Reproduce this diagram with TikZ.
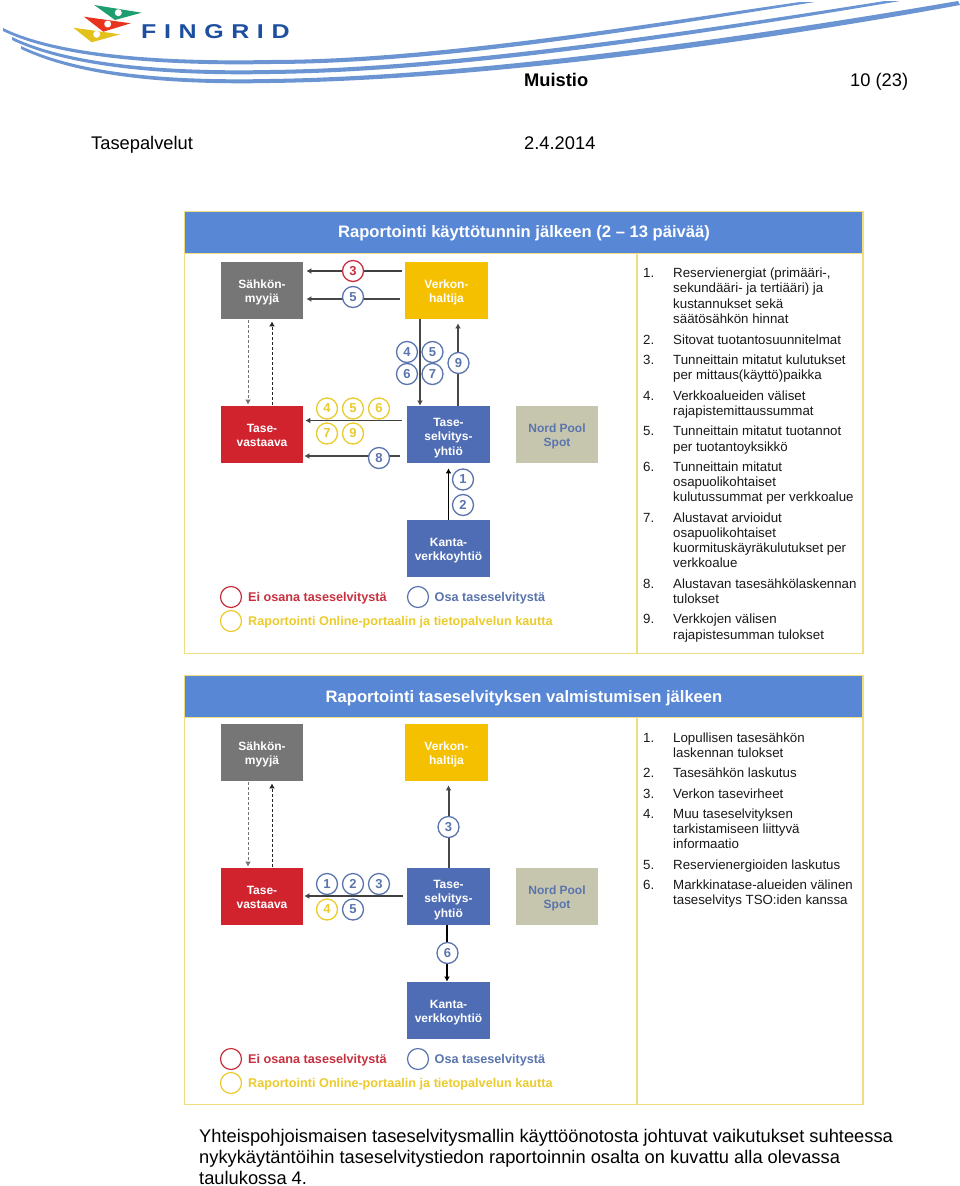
\documentclass[tikz,border=0pt]{standalone}
\usepackage{fontspec}
\setmainfont{Liberation Sans}
\usetikzlibrary{arrows.meta,calc}
\definecolor{hdr}{HTML}{5887D6}
\definecolor{frameY}{HTML}{EFDD80}
\definecolor{cGrey}{HTML}{767676}
\definecolor{cYel}{HTML}{F5C000}
\definecolor{cRed}{HTML}{D1232E}
\definecolor{cBlue}{HTML}{4F6DB4}
\definecolor{cSand}{HTML}{C6C6AE}
\definecolor{rRed}{HTML}{C8303F}
\definecolor{rBlue}{HTML}{5A74AE}
\definecolor{rYel}{HTML}{EBCB2E}
\definecolor{swoosh}{HTML}{6A94D2}
\definecolor{fgBlue}{HTML}{1D4FA0}
\definecolor{lgGreen}{HTML}{1E9E6E}
\definecolor{lgRed}{HTML}{E8331F}
\definecolor{lgYel}{HTML}{E3C21C}
\tikzset{
  box/.style={minimum width=82.5pt,minimum height=57.5pt,inner sep=0pt,text=white,
     font=\fontsize{12}{14.5}\selectfont\bfseries},
  numc/.style={circle,draw=#1,line width=1.3pt,fill=white,text=#1,minimum size=21pt,inner sep=0pt,
     font=\fontsize{13}{15}\selectfont\bfseries},
  legc/.style={circle,draw=#1,line width=1.2pt,minimum size=21pt,inner sep=0pt},
  legt/.style={anchor=west,inner sep=0pt,text=#1,font=\fontsize{12.65}{15}\selectfont\bfseries},
  conn/.style={-{Latex[length=5pt,width=6pt]},line width=1.1pt,draw=#1},
  conn/.default=black!75,
  dconn/.style={-{Latex[length=5pt,width=6pt]},line width=1pt,dash pattern=on 3pt off 2pt,draw=#1},
  lst/.style={anchor=base west,inner sep=0pt,font=\fontsize{13.3}{15}\selectfont,text=black!90},
  page/.style={anchor=base west,inner sep=0pt,font=\fontsize{18.3}{22}\selectfont},
  head/.style={text=white,inner sep=0pt,font=\fontsize{16.6}{20}\selectfont\bfseries},
}
\newcommand{\bt}[2][-2pt]{\raisebox{#1}[\height][\depth]{\begin{tabular}{@{}c@{}}#2\end{tabular}}}
\newcommand{\li}[2]{\node[lst] at (673,#1+5) {#2};}
\newcommand{\lin}[3]{\node[lst] at (643,#1+5) {#2};\node[lst] at (673,#1+5) {#3};}
\newcommand{\diagram}[1]{%
  \node[box,fill=cGrey] (s#1) at (262,#1+290.5) {\bt{Sähkön-\\myyjä}};
  \node[box,fill=cYel] (v#1) at (446.5,#1+290.5) {\bt{Verkon-\\haltija}};
  \node[box,fill=cRed] (r#1) at (262,#1+434.5) {\bt{Tase-\\vastaava}};
  \node[box,fill=cBlue] (t#1) at (448.5,#1+434.5) {\bt[-3.5pt]{Tase-\\selvitys-\\yhtiö}};
  \node[box,fill=cSand,text=rBlue] (n#1) at (557,#1+434.5) {\bt{Nord Pool\\Spot}};
  \node[box,fill=cBlue] (k#1) at (448.5,#1+548.5) {\bt{Kanta-\\verkkoyhtiö}};
  \draw[dconn=black!55] ([shift={(-14,1)}]s#1.south) -- ([shift={(-14,-1)}]r#1.north);
  \draw[dconn=black!85] ([shift={(10,-1)}]r#1.north) -- ([shift={(10,2)}]s#1.south);
  \node[legc=rRed] (lr#1) at (231,#1+597) {};
  \node[legt=rRed] (lrt#1) at (248,#1+598.5) {Ei osana taseselvitystä};
  \node[legc=rBlue] (lb#1) at (418,#1+597) {};
  \node[legt=rBlue] (lbt#1) at (434.5,#1+598.5) {Osa taseselvitystä};
  \node[legc=rYel] (ly#1) at (231,#1+621) {};
  \node[legt=rYel] (lyt#1) at (248,#1+622.5) {Raportointi Online-portaalin ja tietopalvelun kautta};
}
\begin{document}
\begin{tikzpicture}[x=1pt,y=-1pt]
\useasboundingbox (0,0) rectangle (960,1186);
\fill[white] (0,0) rectangle (960,1186);
% swooshes
\fill[swoosh] (3,28) .. controls (60,56) and (170,62) .. (270,60) .. controls (430,60) and (640,25) .. (800,2)
  -- (815,2) .. controls (650,28) and (440,64) .. (270,64) .. controls (170,66) and (60,59) .. (3,31) -- cycle;
\fill[swoosh] (12,37) .. controls (70,65) and (170,72) .. (270,70) .. controls (450,68) and (700,30) .. (885,1)
  -- (900,1) .. controls (710,33) and (460,72) .. (270,74) .. controls (170,76) and (70,68) .. (12,40) -- cycle;
\fill[swoosh] (21,46) .. controls (80,74) and (170,81) .. (270,79) .. controls (480,76) and (760,35) .. (958,1)
  -- (960,5) .. controls (770,40) and (490,80) .. (270,83) .. controls (170,85) and (80,77) .. (21,49) -- cycle;
% logo
\fill[lgGreen] (94.3,5) -- (141.7,12.7) -- (115,20) -- cycle;
\fill[lgRed] (84,16.7) -- (130.7,23.3) -- (103.3,31.7) -- cycle;
\fill[lgYel] (73.3,27.7) -- (120,34.3) -- (91.7,42.3) -- cycle;
\fill[white] (118.3,12.7) circle (3.5);
\fill[white] (107.7,24) circle (3.5);
\fill[white] (96.7,34.3) circle (3.5);
\node[anchor=base west,inner sep=0pt,text=fgBlue,font=\fontsize{20}{22}\selectfont\bfseries\addfontfeature{FakeStretch=1.25,LetterSpace=38}] (logo) at (141,38) {FINGRID};
% page text
\node[page,font=\fontsize{18.3}{22}\selectfont\bfseries] (mu) at (524,86) {Muistio};
\node[page] (pg) at (850,86) {10 (23)};
\node[page] (tp) at (91,149) {Tasepalvelut};
\node[page] (dt) at (524,149) {2.4.2014};
% panels
\draw[frameY,line width=1.3pt] (184.5,211.5) rectangle (863,653.5);
\draw[frameY,line width=1.3pt] (637,253) -- (637,653.5);
\node[draw=frameY,line width=1.3pt,fill=hdr,minimum width=678.5pt,minimum height=42pt,inner sep=0pt] (h1) at (523.7,232.5) {};
\node[head] (h1t) at (524,233.5) {Raportointi käyttötunnin jälkeen (2 – 13 päivää)};
\draw[frameY,line width=1.3pt] (184.5,675.5) rectangle (863,1104.5);
\draw[frameY,line width=1.3pt] (637,717) -- (637,1104.5);
\node[draw=frameY,line width=1.3pt,fill=hdr,minimum width=678.5pt,minimum height=42pt,inner sep=0pt] (h2) at (523.7,696.5) {};
\node[head] (h2t) at (524,698) {Raportointi taseselvityksen valmistumisen jälkeen};
% diagrams
\diagram{0}
\diagram{462}
% first diagram connectors
\draw[conn] ([shift={(-3,-19.5)}]v0.west) -- ([shift={(3,-19.5)}]s0.east);
\draw[conn=cGrey!60!black] ([shift={(-5,8.5)}]v0.west) -- ([shift={(3,8.5)}]s0.east);
\draw[conn=cGrey!60!black] ([shift={(-26.5,0)}]v0.south) -- ([shift={(-28.5,0)}]t0.north);
\draw[conn=cGrey!60!black] ([shift={(9.5,0)}]t0.north) -- ([shift={(11.5,4)}]v0.south);
\draw[conn] ([shift={(-5,-14)}]t0.west) -- ([shift={(2,-14)}]r0.east);
\draw[conn=cGrey!60!black] ([shift={(-7,21.5)}]t0.west) -- ([shift={(1,21.5)}]r0.east);
\draw[conn=black] (k0.north) -- ([shift={(0,5)}]t0.south);
\node[numc=rRed] (a3) at (353,271) {3};
\node[numc=rBlue] (a5) at (353,297) {5};
\node[numc=rBlue] (b4) at (407,352) {4};
\node[numc=rBlue] (b5) at (432.5,352) {5};
\node[numc=rBlue] (b6) at (407,374) {6};
\node[numc=rBlue] (b7) at (432.5,374) {7};
\node[numc=rBlue] (b9) at (458.5,363) {9};
\node[numc=rYel] (c4) at (327,408.5) {4};
\node[numc=rYel] (c5) at (353,408.5) {5};
\node[numc=rYel] (c6) at (379,408.5) {6};
\node[numc=rYel] (c7) at (327,433.5) {7};
\node[numc=rYel] (c9) at (353,433.5) {9};
\node[numc=rBlue] (c8) at (379,458) {8};
\node[numc=rBlue] (d1) at (463,479.5) {1};
\node[numc=rBlue] (d2) at (463,505) {2};
% second diagram connectors
\draw[conn=cGrey!60!black,line width=2pt] (t462.north) -- ([shift={(2,4)}]v462.south);
\draw[conn] ([shift={(-4,-0.5)}]t462.west) -- ([shift={(1,-0.5)}]r462.east);
\draw[conn=black] ([xshift=-1.5pt]t462.south) -- ([xshift=-1.5pt]k462.north);
\node[numc=rBlue] (e3) at (448.5,827) {3};
\node[numc=rBlue] (f1) at (327,884) {1};
\node[numc=rBlue] (f2) at (353,884) {2};
\node[numc=rBlue] (f3) at (379,884) {3};
\node[numc=rYel] (f4) at (327,909.5) {4};
\node[numc=rBlue] (f5) at (353,909.5) {5};
\node[numc=rBlue] (g6) at (447.5,953) {6};
% lists
\lin{272}{1.}{Reservienergiat (primääri-,}
\li{287}{sekundääri- ja tertiääri) ja}
\li{303}{kustannukset sekä}
\li{318}{säätösähkön hinnat}
\lin{339}{2.}{Sitovat tuotantosuunnitelmat}
\lin{359}{3.}{Tunneittain mitatut kulutukset}
\li{374}{per mittaus(käyttö)paikka}
\lin{395}{4.}{Verkkoalueiden väliset}
\li{410}{rajapistemittaussummat}
\lin{430}{5.}{Tunneittain mitatut tuotannot}
\li{446}{per tuotantoyksikkö}
\lin{466}{6.}{Tunneittain mitatut}
\li{481}{osapuolikohtaiset}
\li{496}{kulutussummat per verkkoalue}
\lin{517}{7.}{Alustavat arvioidut}
\li{532}{osapuolikohtaiset}
\li{547}{kuormituskäyräkulutukset per}
\li{562}{verkkoalue}
\lin{583}{8.}{Alustavan tasesähkölaskennan}
\li{598}{tulokset}
\lin{618}{9.}{Verkkojen välisen}
\li{634}{rajapistesumman tulokset}
\lin{737}{1.}{Lopullisen tasesähkön}
\li{752}{laskennan tulokset}
\lin{772}{2.}{Tasesähkön laskutus}
\lin{793}{3.}{Verkon tasevirheet}
\lin{813}{4.}{Muu taseselvityksen}
\li{828}{tarkistamiseen liittyvä}
\li{843}{informaatio}
\lin{864}{5.}{Reservienergioiden laskutus}
\lin{884}{6.}{Markkinatase-alueiden välinen}
\li{899}{taseselvitys TSO:iden kanssa}
% bottom
\node[page] (b1) at (199,1142) {Yhteispohjoismaisen taseselvitysmallin käyttöönotosta johtuvat vaikutukset suhteessa};
\node[page] (b2) at (199,1163) {nykykäytäntöihin taseselvitystiedon raportoinnin osalta on kuvattu alla olevassa};
\node[page] (b3) at (199,1184) {taulukossa 4.};
\end{tikzpicture}
\end{document}
